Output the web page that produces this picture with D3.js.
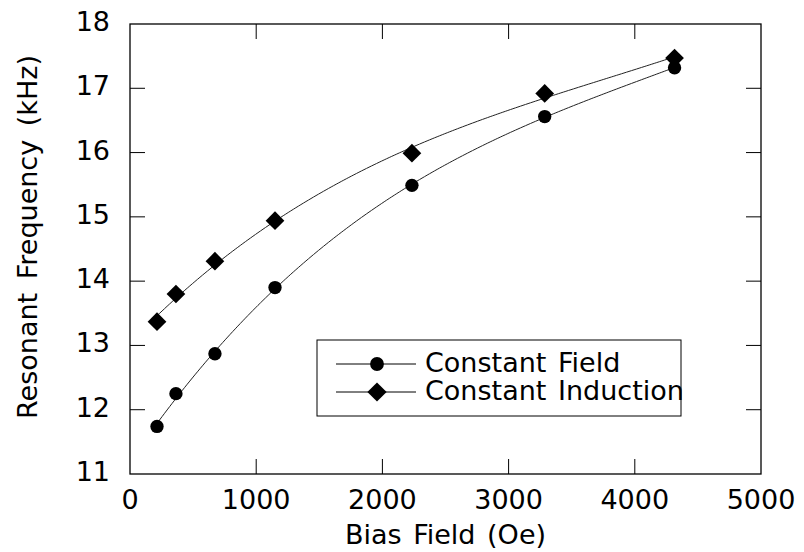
<!DOCTYPE html>
<html>
<head>
<meta charset="utf-8">
<script src="https://cdn.jsdelivr.net/npm/d3@7"></script>
<style>
  body { margin: 0; background: #fff; }
  text { font-family: "DejaVu Sans", sans-serif; fill: #000; }
</style>
</head>
<body>
<div id="app"></div>
<script>
// data
const biasField = [214, 364, 673, 1149, 2234, 3286, 4315]
const constField = [11.74, 12.25, 12.87, 13.90, 15.49, 16.56, 17.32]
const constInduction = [13.37, 13.80, 14.31, 14.94, 15.99, 16.92, 17.47]
const xTicks = [0, 1000, 2000, 3000, 4000, 5000]
const yTicks = [11, 12, 13, 14, 15, 16, 17, 18]
const seriesNames = ['Constant Field', 'Constant Induction']

const W = 804, H = 552
const m = {left: 130, top: 24, right: 43, bottom: 78}

var svg = d3.select('#app').append('svg').attr('width', W).attr('height', H)

const x = d3.scaleLinear().domain([0, 5000]).range([m.left, W - m.right])
const y = d3.scaleLinear().domain([11, 18]).range([H - m.bottom, m.top])

// least squares polynomial fit (degree 3), x in thousands
const polyfit = (xs, ys, deg) => {
  const n = deg + 1
  const A = d3.range(n).map(() => new Array(n + 1).fill(0))
  xs.forEach((xv, k) => {
    const t = xv / 1000
    for (let i = 0; i < n; i++) {
      for (let j = 0; j < n; j++) A[i][j] += Math.pow(t, i + j)
      A[i][n] += ys[k] * Math.pow(t, i)
    }
  })
  for (let i = 0; i < n; i++) {
    let p = i
    for (let r = i + 1; r < n; r++) if (Math.abs(A[r][i]) > Math.abs(A[p][i])) p = r
    ;[A[i], A[p]] = [A[p], A[i]]
    for (let r = 0; r < n; r++) {
      if (r === i) continue
      const f = A[r][i] / A[i][i]
      for (let c = i; c <= n; c++) A[r][c] -= f * A[i][c]
    }
  }
  const coef = A.map((row, i) => row[n] / row[i])
  return xv => coef.reduce((s, c, i) => s + c * Math.pow(xv / 1000, i), 0)
}

// diamond = square turned 45deg
const series = [
  {name: seriesNames[0], values: constField, shape: d3.symbolCircle, size: 140, rot: 0},
  {name: seriesNames[1], values: constInduction, shape: d3.symbolSquare, size: 175, rot: 45}
]

// fitted curves
const line = d3.line().x(d => x(d[0])).y(d => y(d[1]))
series.forEach(s => {
  const f = polyfit(biasField, s.values, 3)
  const xs = d3.range(biasField[0], biasField[biasField.length - 1] + 1, 20)
  svg.append('path')
    .attr('d', line(xs.map(v => [v, f(v)])))
    .attr('fill', 'none').attr('stroke', '#222').attr('stroke-width', 1)
})

// markers
series.forEach(s => {
  svg.append('g').selectAll('path').data(biasField).join('path')
    .attr('transform', (d, i) => `translate(${x(d)},${y(s.values[i])}) rotate(${s.rot})`)
    .attr('d', d3.symbol().type(s.shape).size(s.size))
    .attr('fill', '#000')
})

// frame + inward ticks
const tickLen = 15
const inner = s => s.slice(1, -1)
svg.append('rect')
  .attr('x', x(0)).attr('y', y(18))
  .attr('width', x(5000) - x(0)).attr('height', y(11) - y(18))
  .attr('fill', 'none').attr('stroke', '#000').attr('stroke-width', 1.3)

const ticks = svg.append('g').attr('stroke', '#000').attr('stroke-width', 1)
inner(xTicks).forEach(t => {
  ticks.append('line').attr('x1', x(t)).attr('x2', x(t)).attr('y1', y(11)).attr('y2', y(11) - tickLen)
  ticks.append('line').attr('x1', x(t)).attr('x2', x(t)).attr('y1', y(18)).attr('y2', y(18) + tickLen)
})
inner(yTicks).forEach(t => {
  ticks.append('line').attr('x1', x(0)).attr('x2', x(0) + tickLen).attr('y1', y(t)).attr('y2', y(t))
  ticks.append('line').attr('x1', x(5000)).attr('x2', x(5000) - tickLen).attr('y1', y(t)).attr('y2', y(t))
})

// tick labels
svg.append('g').selectAll('text').data(xTicks).join('text')
  .attr('x', d => x(d)).attr('y', H - m.bottom + 35)
  .attr('text-anchor', 'middle').style('font-size', '27px')
  .text(d => d)
svg.append('g').selectAll('text').data(yTicks).join('text')
  .attr('x', m.left - 20).attr('y', d => y(d) + 7)
  .attr('text-anchor', 'end').style('font-size', '27px')
  .text(d => d)

// axis titles
svg.append('text')
  .attr('x', (x(0) + x(5000)) / 2).attr('y', 544)
  .attr('text-anchor', 'middle').style('font-size', '27px').style('word-spacing', '3px')
  .text('Bias Field (Oe)')
svg.append('text')
  .attr('transform', `translate(37,${(y(11) + y(18)) / 2 - 12}) rotate(-90)`)
  .attr('text-anchor', 'middle').style('font-size', '27px').style('word-spacing', '5px')
  .text('Resonant Frequency (kHz)')

// legend
const lg = svg.append('g')
lg.append('rect')
  .attr('x', 317).attr('y', 340).attr('width', 364).attr('height', 76)
  .attr('fill', '#fff').attr('stroke', '#000').attr('stroke-width', 1)
series.forEach((s, i) => {
  const ly = 364 + i * 28
  lg.append('line').attr('x1', 336).attr('x2', 416).attr('y1', ly).attr('y2', ly)
    .attr('stroke', '#000').attr('stroke-width', 1)
  lg.append('path').attr('transform', `translate(377,${ly}) rotate(${s.rot})`)
    .attr('d', d3.symbol().type(s.shape).size(s.size + 10)).attr('fill', '#000')
  lg.append('text').attr('x', 425).attr('y', ly + 8)
    .style('font-size', '27px').style('word-spacing', '3px')
    .text(s.name)
})
</script>
</body>
</html>
